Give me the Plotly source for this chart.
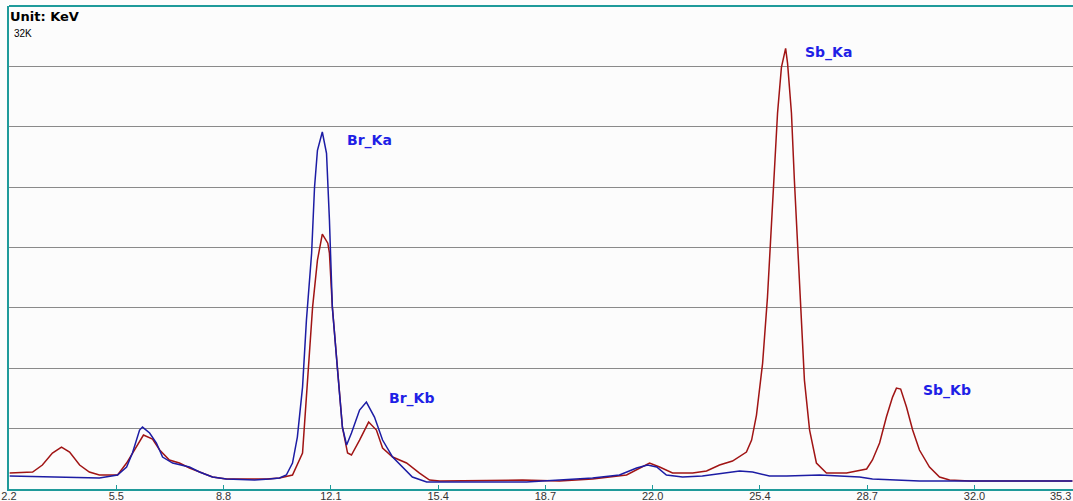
import plotly.graph_objects as go

# ---- data (energy in keV, counts) ----
red_kev = [2.22, 2.93, 3.23, 3.54, 3.82, 4.07, 4.38, 4.68, 4.99, 5.55, 5.83, 6.14, 6.35, 6.63, 6.85,
           7.15, 7.46, 7.77, 8.08, 8.48, 8.91, 10.15, 10.55, 10.95, 11.26, 11.41, 11.57, 11.72, 11.87,
           12.04, 12.09, 12.18, 12.34, 12.49, 12.65, 12.77, 13.02, 13.30, 13.54, 13.73, 14.04, 14.47,
           14.87, 15.18, 15.49, 18.05, 19.19, 20.21, 21.26, 21.57, 21.97, 22.28, 22.68, 23.30, 23.73,
           24.13, 24.53, 24.96, 25.12, 25.27, 25.46, 25.61, 25.73, 25.83, 25.92, 26.04, 26.17, 26.23,
           26.35, 26.44, 26.54, 26.66, 26.75, 26.91, 27.12, 27.43, 28.05, 28.67, 28.85, 29.07, 29.28,
           29.47, 29.59, 29.72, 29.90, 30.09, 30.30, 30.61, 30.92, 31.23, 31.85, 35.02]
red_counts = [1060, 1125, 1589, 2383, 2780, 2449, 1589, 1125, 927, 927, 1721, 2780, 3575, 3310, 2582,
              1920, 1721, 1390, 1125, 794, 662, 662, 728, 927, 2383, 6752, 12048, 15160, 16881,
              16285, 15623, 12048, 7679, 4104, 2383, 2251, 3244, 4435, 3906, 2714, 2118, 1721,
              1059, 596, 530, 596, 530, 662, 927, 1258, 1721, 1456, 1059, 1059, 1192,
              1589, 1854, 2449, 3244, 4899, 8341, 12710, 17146, 21581, 24891, 27936, 29194, 28201,
              24891, 20456, 16020, 11651, 7216, 3906, 1721, 1059, 1059, 1324, 1920, 3045, 4766,
              6090, 6686, 6620, 5428, 3906, 2582, 1456, 794, 596, 530, 530]

blue_kev = [2.22, 3.45, 4.99, 5.55, 5.83, 6.01, 6.23, 6.32, 6.54, 6.75, 6.94, 7.25, 7.77, 8.08, 8.48,
            8.91, 9.78, 10.24, 10.55, 10.76, 10.95, 11.10, 11.26, 11.38, 11.54, 11.63, 11.72, 11.87,
            12.00, 12.09, 12.18, 12.34, 12.49, 12.62, 12.77, 13.02, 13.23, 13.48, 13.73, 14.04, 14.35,
            14.65, 15.09, 16.10, 18.17, 19.19, 20.21, 21.04, 21.57, 21.91, 22.19, 22.49, 22.99, 23.60,
            24.13, 24.75, 25.15, 25.67, 26.20, 27.22, 28.45, 28.85, 30.30, 31.32, 35.02]
blue_counts = [861, 794, 728, 927, 1456, 2383, 3906, 4104, 3707, 3045, 2118, 1721, 1456, 1125, 794,
               662, 596, 662, 728, 927, 1721, 3442, 6752, 11188, 15623, 19992, 22442, 23653,
               22243, 17808, 12048, 7878, 4104, 2913, 3707, 5230, 5759, 4766, 3244, 2118, 1456,
               794, 463, 463, 463, 596, 728, 927, 1390, 1589, 1456, 927, 794, 861,
               993, 1192, 1125, 861, 861, 927, 794, 662, 530, 530, 530]

peak_labels = ["Br_Ka", "Br_Kb", "Sb_Ka", "Sb_Kb"]
peak_kev = [13.33, 14.62, 27.49, 31.14]
peak_counts = [23100, 6020, 28930, 6550]

tick_labels = ["2.2", "5.5", "8.8", "12.1", "15.4", "18.7", "22.0", "25.4", "28.7", "32.0", "35.3"]
tick_start = 2.2
tick_step = 29.8 / 9
tick_vals = [tick_start + i * tick_step for i in range(len(tick_labels))]

TEAL = "#1f9a9a"

fig = go.Figure()
fig.add_trace(go.Scatter(x=red_kev, y=red_counts, mode="lines",
                         line=dict(color="#a01414", width=1.5), hoverinfo="skip"))
fig.add_trace(go.Scatter(x=blue_kev, y=blue_counts, mode="lines",
                         line=dict(color="#1c1ca4", width=1.5), hoverinfo="skip"))

for lab, xv, yv in zip(peak_labels, peak_kev, peak_counts):
    fig.add_annotation(x=xv, y=yv, text=lab, showarrow=False,
                       font=dict(family="DejaVu Sans", size=14, color="#1f1fe6", weight="bold"))

fig.add_annotation(xref="paper", yref="paper", x=0, y=1, xanchor="left", yanchor="top",
                   xshift=-1, yshift=-1, text="<b>Unit: KeV</b>", showarrow=False,
                   font=dict(family="DejaVu Sans", size=13, color="#000000"))
fig.add_annotation(xref="paper", yref="paper", x=0, y=1, xanchor="left", yanchor="top",
                   xshift=3, yshift=-20, text="32K", showarrow=False,
                   font=dict(family="Liberation Sans", size=10, color="#000000"))
fig.add_annotation(xref="paper", yref="paper", x=1, y=0, xanchor="right", yanchor="top",
                   xshift=0, yshift=1, text=tick_labels[-1], showarrow=False,
                   font=dict(family="Liberation Sans", size=11, color="#333333"))

fig.add_shape(type="line", xref="paper", yref="paper", x0=0, x1=1, y0=1, y1=1,
              line=dict(color=TEAL, width=2))

fig.update_layout(
    width=1073, height=501,
    margin=dict(l=9, r=0, t=6, b=12),
    paper_bgcolor="#fcfcfc", plot_bgcolor="#fcfcfc",
    showlegend=False,
    xaxis=dict(range=[2.2, 2.2 + 1064 / 32.4], tickvals=tick_vals[:-1], ticktext=tick_labels[:-1],
               showgrid=False, zeroline=False, showline=True, linecolor=TEAL, linewidth=2,
               ticks="inside", ticklen=4, tickcolor=TEAL, tickwidth=1, ticklabelstandoff=-4,
               tickfont=dict(family="Liberation Sans", size=11, color="#333333")),
    yaxis=dict(range=[0, 32000], dtick=4000, showticklabels=False, showgrid=True,
               gridcolor="#8a8a8a", gridwidth=1, zeroline=False, showline=True,
               linecolor=TEAL, linewidth=2, ticks=""),
)

fig.write_html("out.html", config={"displayModeBar": False},
               post_script="document.body.style.margin='0px';")
